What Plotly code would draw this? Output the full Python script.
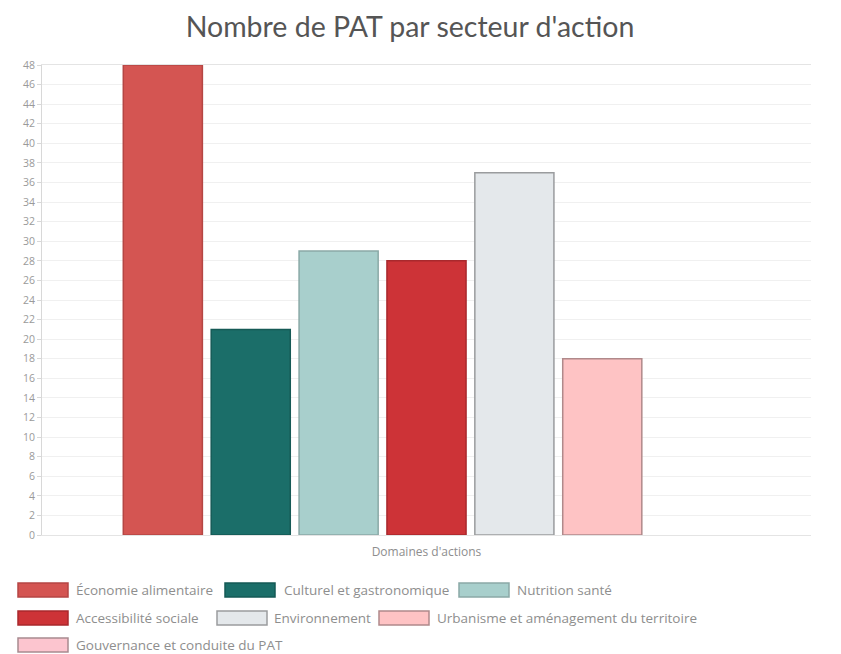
import plotly.graph_objects as go

categories = ["Domaines d'actions"]
series_names = [
    "Économie alimentaire",
    "Culturel et gastronomique",
    "Nutrition santé",
    "Accessibilité sociale",
    "Environnement",
    "Urbanisme et aménagement du territoire",
    "Gouvernance et conduite du PAT",
]
series_values = [48, 21, 29, 28, 37, 18, 0]
y_ticks = list(range(0, 49, 2))

# styles
fill_colors = ["#d45552", "#1b6e69", "#a8cfcc", "#cd3337", "#e4e8eb", "#fec3c4", "#fcc5cf"]
line_colors = ["#b54644", "#155a56", "#8aa9a7", "#a9292d", "#9a9c9e", "#b0898a", "#a88a90"]

# page-pixel layout of plot area (page has an 8px body margin)
OFF = 8
PL, PR, PT, PB = 42, 811, 65, 535
W, H = 833, 646


def px(x):
    return (x - PL) / (PR - PL)


def py(y):
    return (PB - y) / (PB - PT)


fig = go.Figure()
for name, val, fc, lc in zip(series_names, series_values, fill_colors, line_colors):
    fig.add_trace(go.Bar(
        x=categories, y=[val], name=name, showlegend=False,
        marker=dict(color=fc, line=dict(color=lc, width=1.5 if val > 0 else 0)),
    ))

# custom flow legend (swatch left x, text left x, row center y) in page pixels
legend_pos = [
    (18, 74, 590), (225, 282, 590), (459, 515, 590),
    (18, 74, 618), (217, 272, 618), (379, 435, 618),
    (18, 74, 645),
]
shapes = []
annotations = []
for (sx, tx, cy), name, fc, lc in zip(legend_pos, series_names, fill_colors, line_colors):
    shapes.append(dict(type="rect", xref="paper", yref="paper",
                       x0=px(sx), x1=px(sx + 50), y0=py(cy + 7), y1=py(cy - 7),
                       fillcolor=fc, line=dict(color=lc, width=1.5)))
    annotations.append(dict(text=name, xref="paper", yref="paper", x=px(tx), y=py(cy),
                            xanchor="left", yanchor="middle", showarrow=False,
                            font=dict(family="Open Sans", size=13.5, color="#8e8e8e")))

fig.update_layout(
    width=W, height=H,
    paper_bgcolor="white", plot_bgcolor="white",
    barmode="group", bargap=0.2, bargroupgap=0.1,
    title=dict(text="Nombre de PAT par secteur d'action", x=(410 - OFF) / W, xanchor="center",
               y=1 - (27 - OFF) / H, yanchor="middle",
               font=dict(family="Lato", size=28.5, color="#555555")),
    margin=dict(l=PL - OFF, r=W - (PR - OFF), t=PT - OFF, b=H - (PB - OFF)),
    font=dict(family="Open Sans", color="#888888"),
    xaxis=dict(showticklabels=False, ticks="", showline=True, linecolor="#e4e4e4",
               mirror=True,
               title=dict(text="Domaines d'actions", standoff=12,
                          font=dict(size=12, color="#8e8e8e"))),
    yaxis=dict(range=[0, 48], tickvals=y_ticks, showgrid=True, gridcolor="#f0f0f0",
               showline=True, linecolor="#d8d8d8", ticks="outside", ticklen=4,
               tickcolor="#d8d8d8", zeroline=False,
               tickfont=dict(size=10.5, color="#9a9a9a")),
    shapes=shapes,
    annotations=annotations,
    showlegend=False,
)
fig.write_html("out.html")
